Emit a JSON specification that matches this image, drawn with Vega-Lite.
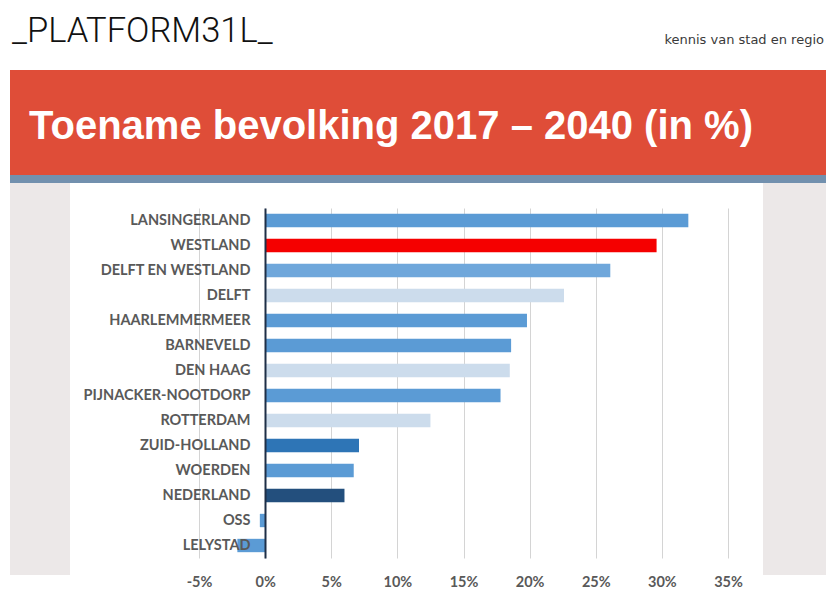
{
  "$schema": "https://vega.github.io/schema/vega-lite/v6.json",
  "background": "white",
  "padding": {"left": 10, "top": 0, "right": 0, "bottom": 0},
  "bounds": "flush",
  "spacing": 0,
  "config": {"view": {"stroke": null}, "concat": {"spacing": 0}},
  "vconcat": [
    {
      "width": 816, "height": 70,
      "data": {"values": [{"logo": "_PLATFORM31L_", "tag": "kennis van stad en regio"}]},
      "layer": [
        {"mark": {"type": "text", "x": 2, "y": 42, "align": "left", "baseline": "alphabetic", "font": "Roboto", "fontSize": 34.5, "fontWeight": 300, "color": "#111111"},
         "encoding": {"text": {"field": "logo"}}},
        {"mark": {"type": "text", "x": 814, "y": 40, "align": "right", "baseline": "middle", "font": "DejaVu Sans", "fontSize": 13, "color": "#3a3a3a"},
         "encoding": {"text": {"field": "tag"}}}
      ]
    },
    {
      "width": 816, "height": 105,
      "view": {"fill": "#DF4D38", "stroke": null},
      "data": {"values": [{"titel": "Toename bevolking 2017 – 2040 (in %)"}]},
      "mark": {"type": "text", "x": 19, "y": 69, "align": "left", "baseline": "alphabetic", "font": "Liberation Sans", "fontSize": 40, "fontWeight": "bold", "color": "#FFFFFF"},
      "encoding": {"text": {"field": "titel"}}
    },
    {
      "width": 816, "height": 8,
      "view": {"fill": "#7290AE", "stroke": null},
      "data": {"values": [{}]},
      "mark": {"type": "text", "text": ""},
      "encoding": {}
    },
    {
      "bounds": "flush",
      "spacing": 0,
      "hconcat": [
        {
          "width": 60, "height": 392,
          "view": {"fill": "#ECE8E8", "stroke": null},
          "data": {"values": [{}]},
          "mark": {"type": "text", "text": ""},
          "encoding": {}
        },
        {
          "width": 129, "height": 392,
          "data": {"values": [{}]},
          "mark": {"type": "text", "text": ""},
          "encoding": {}
        },
        {
          "bounds": "flush",
          "spacing": 0,
          "vconcat": [
            {
              "width": 529, "height": 25,
              "data": {"values": [{}]},
              "mark": {"type": "text", "text": ""},
              "encoding": {}
            },
            {
              "width": 529, "height": 350,
              "data": {"values": [
                {"gemeente": "LANSINGERLAND", "groei": 32.0, "categorie": "gemeente"},
                {"gemeente": "WESTLAND", "groei": 29.6, "categorie": "Westland"},
                {"gemeente": "DELFT EN WESTLAND", "groei": 26.1, "categorie": "Delft en Westland"},
                {"gemeente": "DELFT", "groei": 22.6, "categorie": "grote stad"},
                {"gemeente": "HAARLEMMERMEER", "groei": 19.8, "categorie": "gemeente"},
                {"gemeente": "BARNEVELD", "groei": 18.6, "categorie": "gemeente"},
                {"gemeente": "DEN HAAG", "groei": 18.5, "categorie": "grote stad"},
                {"gemeente": "PIJNACKER-NOOTDORP", "groei": 17.8, "categorie": "gemeente"},
                {"gemeente": "ROTTERDAM", "groei": 12.5, "categorie": "grote stad"},
                {"gemeente": "ZUID-HOLLAND", "groei": 7.1, "categorie": "provincie"},
                {"gemeente": "WOERDEN", "groei": 6.7, "categorie": "gemeente"},
                {"gemeente": "NEDERLAND", "groei": 6.0, "categorie": "land"},
                {"gemeente": "OSS", "groei": -0.4, "categorie": "gemeente"},
                {"gemeente": "LELYSTAD", "groei": -2.1, "categorie": "gemeente"}
              ]},
              "mark": {"type": "bar"},
              "encoding": {
                "y": {
                  "field": "gemeente", "type": "nominal", "sort": null,
                  "scale": {"paddingInner": 0.465, "paddingOuter": 0.2325},
                  "axis": {
                    "title": null, "offset": -66, "zindex": 1, "ticks": false, "tickSize": 0,
                    "labelPadding": 15, "labelFont": "Lato", "labelFontSize": 14.5, "labelFontWeight": "bold",
                    "labelColor": "#595959", "domainColor": "#1E2F47", "domainWidth": 2, "grid": false
                  }
                },
                "x": {
                  "field": "groei", "type": "quantitative",
                  "scale": {"domain": [-5, 35], "nice": false, "zero": false},
                  "axis": {
                    "title": null, "values": [-5, 0, 5, 10, 15, 20, 25, 30, 35],
                    "labelExpr": "datum.value + '%'", "grid": true, "gridColor": "#D4D4D4", "gridWidth": 1,
                    "domain": false, "ticks": false, "tickSize": 0, "labelPadding": 17,
                    "labelFlush": false, "labelOverlap": false,
                    "labelFont": "Lato", "labelFontSize": 14.5, "labelFontWeight": "bold", "labelColor": "#595959"
                  }
                },
                "color": {
                  "field": "categorie", "type": "nominal", "legend": null,
                  "scale": {
                    "domain": ["gemeente", "Westland", "Delft en Westland", "grote stad", "provincie", "land"],
                    "range": ["#5B9BD5", "#F50000", "#6FA7DB", "#CCDCEC", "#2E75B6", "#234F7D"]
                  }
                }
              }
            }
          ]
        },
        {
          "width": 564, "height": 392,
          "data": {"values": [{}]},
          "mark": {"type": "text", "text": ""},
          "encoding": {}
        },
        {
          "width": 63, "height": 392,
          "view": {"fill": "#ECE8E8", "stroke": null},
          "data": {"values": [{}]},
          "mark": {"type": "text", "text": ""},
          "encoding": {}
        }
      ]
    }
  ]
}
